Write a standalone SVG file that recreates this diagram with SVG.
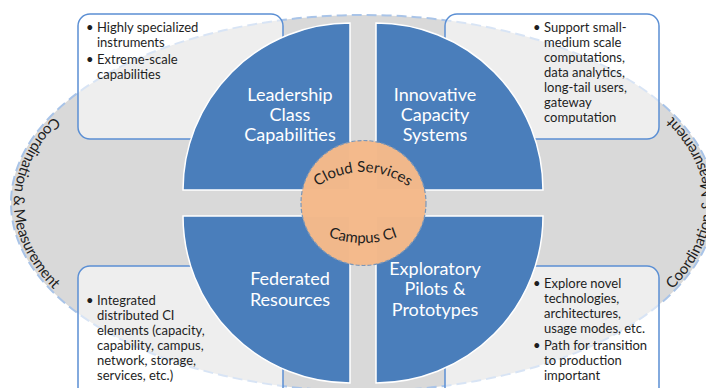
<svg xmlns="http://www.w3.org/2000/svg" width="706" height="388" viewBox="0 0 706 388">
  <style>
    .quad { fill: #4a7ebb; stroke: #ffffff; stroke-width: 1.5; }
    .qlabel { font-family: Lato, "Liberation Sans", sans-serif; font-size: 18px; fill: #ffffff; text-anchor: middle; }
    .box { fill: #ffffff; fill-opacity: 0.55; stroke: #5b8fd4; stroke-width: 1.5; }
    .btext { font-family: Lato, "Liberation Sans", sans-serif; font-size: 13px; fill: #1e1e1e; }
    .arc { font-family: Lato, "Liberation Sans", sans-serif; font-size: 15px; fill: #1e1e1e; }
    .coord { font-family: Lato, "Liberation Sans", sans-serif; font-size: 15px; fill: #1e1e1e; }
  </style>
  <defs>
    <path id="ringPath" d="M 363,17 A 349 186 0 1 0 363,389 A 349 186 0 1 0 363,17"/>
    <path id="cloudPath" d="M 285,250 A 78 78 0 0 1 441,250"/>
    <path id="campusPath" d="M 263,143 A 100 100 0 0 0 463,143"/>
  </defs>

  <g id="ring">
    <ellipse cx="363" cy="203" rx="352" ry="188" fill="#d9d9d9" stroke="#a9c4e8" stroke-width="2" stroke-dasharray="10 5"/>
    <text class="coord"><textPath href="#ringPath" startOffset="25%" text-anchor="middle">Coordination &amp; Measurement</textPath></text>
    <text class="coord"><textPath href="#ringPath" startOffset="75%" text-anchor="middle">Coordination &amp; Measurement</textPath></text>
  </g>

  <g id="box-leadership">
    <rect class="box" x="78" y="14" width="205" height="125" rx="12"/>
    <text class="btext"><tspan x="86" y="32">•</tspan><tspan x="97" y="32">Highly specialized</tspan><tspan x="97" y="47">instruments</tspan><tspan x="86" y="64">•</tspan><tspan x="97" y="64">Extreme-scale</tspan><tspan x="97" y="79">capabilities</tspan></text>
  </g>
  <g id="box-innovative">
    <rect class="box" x="445" y="14" width="214" height="125" rx="12"/>
    <text class="btext"><tspan x="533" y="32">•</tspan><tspan x="544" y="32">Support small-</tspan><tspan x="544" y="47">medium scale</tspan><tspan x="544" y="62">computations,</tspan><tspan x="544" y="77">data analytics,</tspan><tspan x="544" y="92">long-tail users,</tspan><tspan x="544" y="107">gateway</tspan><tspan x="544" y="122">computation</tspan></text>
  </g>
  <g id="box-federated">
    <rect class="box" x="78" y="266" width="205" height="140" rx="12"/>
    <text class="btext"><tspan x="86" y="305">•</tspan><tspan x="97" y="305">Integrated</tspan><tspan x="97" y="320">distributed CI</tspan><tspan x="97" y="335">elements (capacity,</tspan><tspan x="97" y="350">capability, campus,</tspan><tspan x="97" y="365">network, storage,</tspan><tspan x="97" y="380">services, etc.)</tspan></text>
  </g>
  <g id="box-exploratory">
    <rect class="box" x="445" y="266" width="214" height="140" rx="12"/>
    <text class="btext"><tspan x="533" y="288">•</tspan><tspan x="544" y="288">Explore novel</tspan><tspan x="544" y="303">technologies,</tspan><tspan x="544" y="318">architectures,</tspan><tspan x="544" y="333">usage modes, etc.</tspan><tspan x="533" y="350">•</tspan><tspan x="544" y="350">Path for transition</tspan><tspan x="544" y="365">to production</tspan><tspan x="544" y="380">important</tspan></text>
  </g>

  <g id="leadership">
    <path class="quad" d="M350,190 L183,190 A167 167 0 0 1 350,23 Z"/>
    <text class="qlabel"><tspan x="290" y="101">Leadership</tspan><tspan x="290" y="121">Class</tspan><tspan x="290" y="141">Capabilities</tspan></text>
  </g>
  <g id="innovative">
    <path class="quad" d="M376,190 L376,23 A167 167 0 0 1 543,190 Z"/>
    <text class="qlabel"><tspan x="435" y="101">Innovative</tspan><tspan x="435" y="121">Capacity</tspan><tspan x="435" y="141">Systems</tspan></text>
  </g>
  <g id="federated">
    <path class="quad" d="M350,216 L350,383 A167 167 0 0 1 183,216 Z"/>
    <text class="qlabel"><tspan x="290" y="285">Federated</tspan><tspan x="290" y="306">Resources</tspan></text>
  </g>
  <g id="exploratory">
    <path class="quad" d="M376,216 L543,216 A167 167 0 0 1 376,383 Z"/>
    <text class="qlabel"><tspan x="435" y="275">Exploratory</tspan><tspan x="435" y="295">Pilots &amp;</tspan><tspan x="435" y="316">Prototypes</tspan></text>
  </g>

  <g id="center">
    <circle cx="363.5" cy="203" r="62.5" fill="#f4b98a" fill-opacity="0.985" stroke="#7b97b9" stroke-width="1.2" stroke-dasharray="4 2"/>
    <text class="arc"><textPath href="#cloudPath" startOffset="50%" text-anchor="middle">Cloud Services</textPath></text>
    <text class="arc"><textPath href="#campusPath" startOffset="50%" text-anchor="middle">Campus CI</textPath></text>
  </g>

  <g id="connectors"></g>
</svg>
